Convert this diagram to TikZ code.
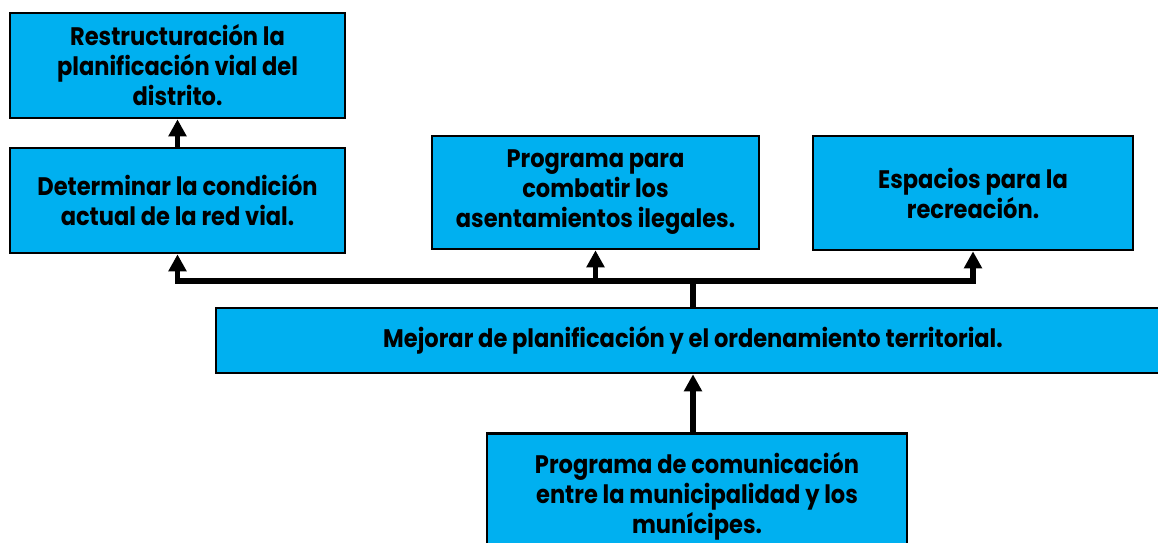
\documentclass[tikz,border=0pt]{standalone}
\usepackage{fontspec}
\setmainfont{Poppins}[FakeStretch=0.89]
\usetikzlibrary{positioning,arrows.meta}

\definecolor{boxblue}{HTML}{00B0F0}
\tikzset{
	box/.style={draw, line width=2pt, fill=boxblue, align=center, inner sep=0pt,
		font=\fontsize{19}{22.5}\selectfont\bfseries},
	link/.style={line width=4pt, -{Triangle[length=12.75pt,width=13pt]}},
}

\begin{document}
\begin{tikzpicture}[x=0.75pt,y=-0.75pt]
	\useasboundingbox (0,0) rectangle (1158,543);
	\node[box, minimum width=251.25pt, minimum height=78.75pt](det) at (177.5,200.5){Determinar la condición\\actual de la red vial.};
	\node[box, minimum width=251.25pt, minimum height=78.75pt](res)[above=20.5pt of det]{Restructuración la\\planificación vial del\\distrito.};
	\node[box, minimum width=245.25pt, minimum height=84.75pt](ase) at (595.5,192.5){Programa para\\combatir los\\asentamientos ilegales.};
	\node[box, minimum width=240pt, minimum height=85.5pt](rec) at (973,193){Espacios para la\\recreación.};
	\node[box, minimum width=715.5pt, minimum height=48.75pt](mej) at (693,340.5){Mejorar de planificación y el ordenamiento territorial.};
	\node[box, minimum width=315pt, minimum height=94.5pt](com)[below=43.5pt of mej, xshift=3pt]{Programa de comunicación\\entre la municipalidad y los\\munícipes.};
	\coordinate (bus) at (693,281);
	\draw[link](det) -- (res);
	\draw[link](mej.north) -- (mej.north |- bus) -| (det.south);
	\draw[link](mej.north |- bus) -| (ase.south);
	\draw[link](mej.north |- bus) -| (rec.south);
	\draw[link](com.north -| mej.north) -- (mej.south);
\end{tikzpicture}
\end{document}
